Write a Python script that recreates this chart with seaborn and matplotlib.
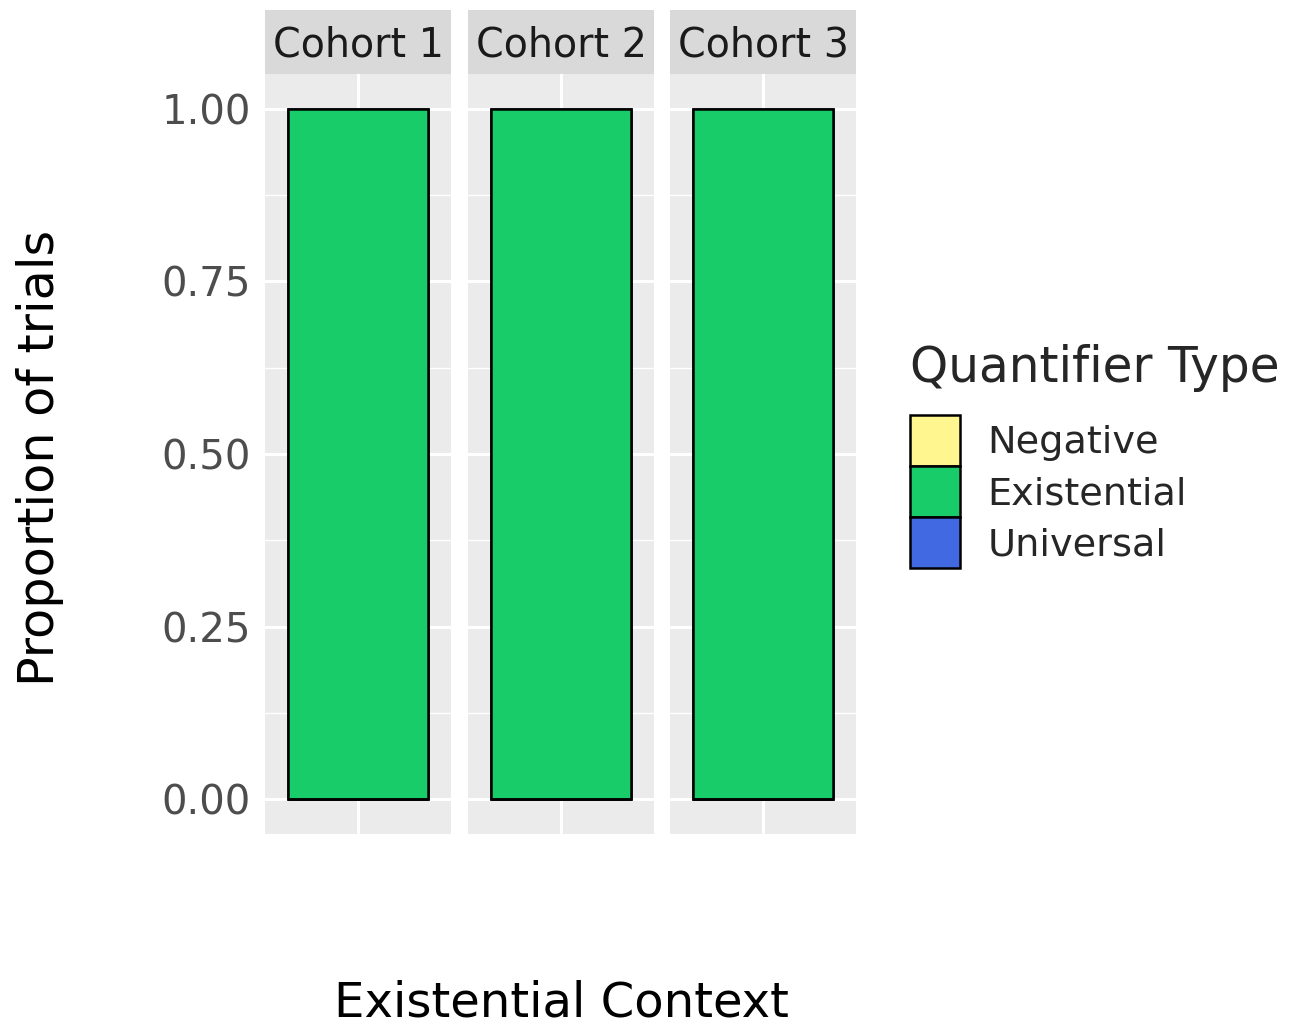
import matplotlib
matplotlib.use("Agg")
import matplotlib.pyplot as plt
import seaborn as sns
import pandas as pd
import numpy as np
from matplotlib.patches import Patch

# ---- data ----
cohorts = ["Cohort 1", "Cohort 2", "Cohort 3"]
quant_types = ["Negative", "Existential", "Universal"]
negative = [0.0, 0.0, 0.0]
existential = [1.0, 1.0, 1.0]
universal = [0.0, 0.0, 0.0]
y_ticks = [0.00, 0.25, 0.50, 0.75, 1.00]
y_tick_labels = ["0.00", "0.25", "0.50", "0.75", "1.00"]
colors = {"Negative": "#FFF68F", "Existential": "#18CC6A", "Universal": "#4169E1"}

rows = []
for i, c in enumerate(cohorts):
    for q, vals in zip(quant_types, [negative, existential, universal]):
        rows.append({"cohort": c, "context": "", "type": q, "prop": vals[i]})
df = pd.DataFrame(rows)

sns.set_theme(style="white")
plt.rcParams["font.family"] = ["DejaVu Sans"]

fig = plt.figure(figsize=(12.9, 10.29), dpi=100)
W, H = 1290, 1029
lefts = [265, 468, 670]
pw = 186
ptop, pbot = 74, 834
strip_top = 10

# stacking: first level on top (ggplot default) -> cumulative from bottom: Universal, Existential, Negative
stack_order = ["Universal", "Existential", "Negative"]

for k, (c, lx) in enumerate(zip(cohorts, lefts)):
    ax = fig.add_axes([lx / W, 1 - pbot / H, pw / W, (pbot - ptop) / H])
    sub = df[df.cohort == c].set_index("type")
    cum = {}
    total = 0.0
    for q in stack_order:
        total += sub.loc[q, "prop"]
        cum[q] = total
    for q in reversed(stack_order):
        d = pd.DataFrame({"context": [""], "val": [cum[q]]})
        sns.barplot(data=d, x="context", y="val", color=colors[q], width=0.9,
                    edgecolor="black", linewidth=1.8, saturation=1, ax=ax, zorder=3)
    ax.set_facecolor("#EBEBEB")
    ax.set_xlim(-0.6, 0.6)
    ax.set_ylim(-0.05, 1.05)
    ax.set_yticks(y_ticks)
    ax.set_yticks([0.125, 0.375, 0.625, 0.875], minor=True)
    ax.grid(True, which="major", color="white", linewidth=2.2, zorder=0)
    ax.grid(True, which="minor", axis="y", color="white", linewidth=1.0, zorder=0)
    ax.set_axisbelow(True)
    for s in ax.spines.values():
        s.set_visible(False)
    ax.set_xticks([0])
    ax.set_xticklabels([""])
    ax.tick_params(axis="x", length=3, color="#E0E0E0", width=1)
    ax.set_xlabel("")
    ax.set_ylabel("")
    if k == 0:
        ax.set_yticklabels(y_tick_labels, fontsize=29, color="#4D4D4D")
        ax.tick_params(axis="y", which="major", length=6, width=2, color="#333333", pad=4)
        ax.tick_params(axis="y", which="minor", length=0)
    else:
        ax.tick_params(axis="y", which="both", length=0, labelleft=False)
    # strip
    sax = fig.add_axes([lx / W, 1 - ptop / H, pw / W, (ptop - strip_top) / H])
    sax.set_facecolor("#D9D9D9")
    sax.set_xticks([]); sax.set_yticks([])
    for s in sax.spines.values():
        s.set_visible(False)
    sax.text(0.5, 0.44, c, ha="center", va="center", fontsize=28.5, color="#1A1A1A",
             transform=sax.transAxes)

fig.text(40 / W, 1 - 458 / H, "Proportion of trials", rotation=90, ha="center",
         va="center", fontsize=35.5, color="black")
fig.text(561 / W, 1 - 1003 / H, "Existential Context", ha="center", va="center",
         fontsize=34.7, color="black")

handles = [Patch(facecolor=colors[q], edgecolor="black", linewidth=1.8) for q in quant_types]
leg = fig.legend(handles, quant_types, title="Quantifier Type", loc="upper left",
                 bbox_to_anchor=(902 / W, 1 - 336 / H), frameon=False, fontsize=27.5,
                 title_fontsize=35, handlelength=1.33, handleheight=1.68,
                 labelspacing=0.0, handletextpad=0.7, borderaxespad=0, borderpad=0.2)
leg._legend_box.align = "left"
leg._legend_box.sep = 17

fig.savefig("out.png", dpi=100)
